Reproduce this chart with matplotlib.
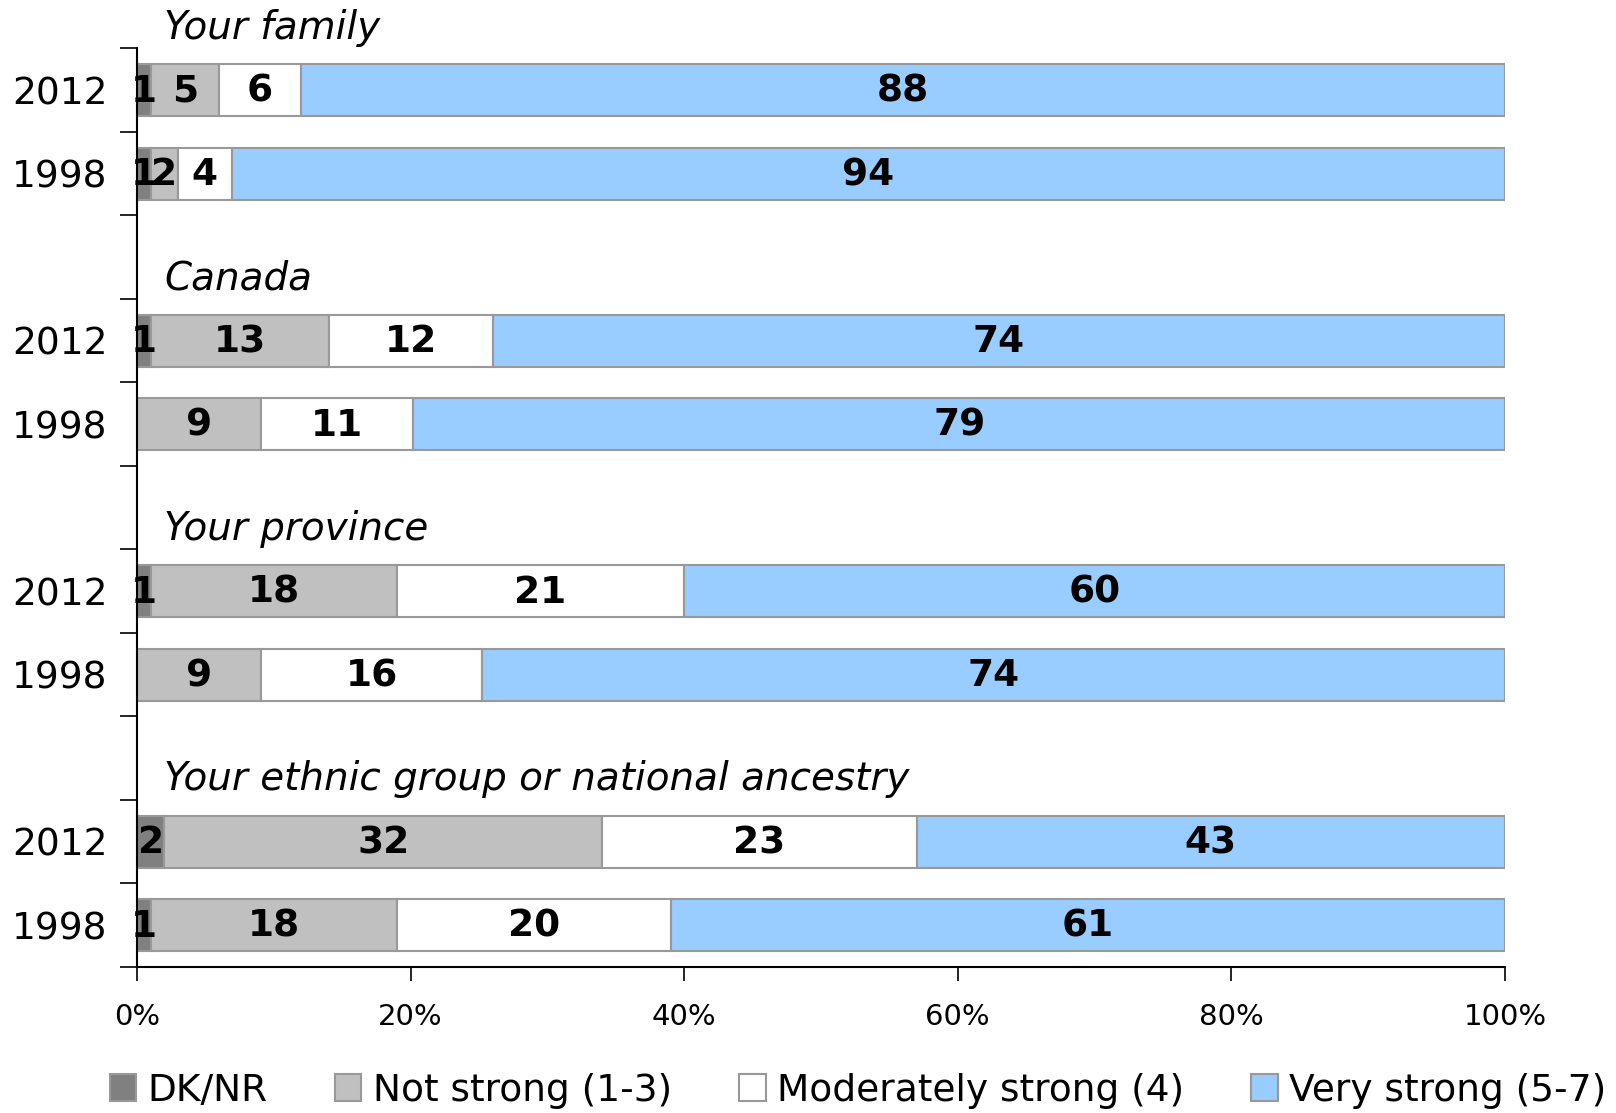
import numpy as np
import matplotlib
matplotlib.use("Agg")
import matplotlib.pyplot as plt
from matplotlib.patches import Patch

# rows from top to bottom; header rows carry no bars
groups = ["Your family", "Canada", "Your province", "Your ethnic group or national ancestry"]
years = ["2012", "1998"]
series = ["DK/NR", "Not strong (1-3)", "Moderately strong (4)", "Very strong (5-7)"]

dk = [1, 1, 1, 0, 1, 0, 2, 1]
not_strong = [5, 2, 13, 9, 18, 9, 32, 18]
moderate = [6, 4, 12, 11, 21, 16, 23, 20]
very_strong = [88, 94, 74, 79, 60, 74, 43, 61]

colors = ["#808080", "#C0C0C0", "#FFFFFF", "#99CCFF"]
edge = "#999999"

plt.rcParams["font.family"] = ["DejaVu Sans"]

fig = plt.figure(figsize=(16.16, 11.13), dpi=100)
ax = fig.add_axes([0.0848, 0.1312, 0.8465, 0.8253])

vals = np.array([dk, not_strong, moderate, very_strong], dtype=float)
shares = vals / vals.sum(axis=0) * 100

# slot positions: each group has a header slot (first one sits above the axis)
ypos = []
header_pos = []
slot = -1
for g in groups:
    header_pos.append(slot)
    ypos.extend([slot + 1, slot + 2])
    slot += 3
ypos = np.array(ypos)

left = np.zeros(len(ypos))
for i in range(4):
    ax.barh(ypos, shares[i], left=left, height=0.62, color=colors[i],
            edgecolor=edge, linewidth=1.5, label=series[i])
    for j in range(len(ypos)):
        if vals[i, j] > 0:
            ax.text(left[j] + shares[i, j] / 2, ypos[j] + 0.02, f"{int(vals[i, j])}",
                    ha="center", va="center", fontsize=27, fontweight="bold")
    left += shares[i]

for g, hp in zip(groups, header_pos):
    ax.text(2.0, hp + 0.25, g, fontsize=28, style="italic", ha="left",
            va="center", clip_on=False)

ax.set_xlim(0, 100)
ax.set_ylim(10.5, -0.5)
ax.set_xticks(np.arange(0, 101, 20))
ax.set_xticklabels([f"{x}%" for x in range(0, 101, 20)], fontsize=21)
ax.tick_params(axis="x", length=10, width=1.2, pad=16)

ax.set_yticks(ypos)
ax.set_yticklabels(years * len(groups), fontsize=27)
ax.tick_params(axis="y", length=0, pad=21)
ax.set_yticks(np.arange(-0.5, 11, 1), minor=True)
ax.tick_params(axis="y", which="minor", length=12, width=1.2)

for s in ["top", "right"]:
    ax.spines[s].set_visible(False)
ax.spines["left"].set_linewidth(1.5)
ax.spines["bottom"].set_linewidth(1.5)

handles = [Patch(facecolor=c, edgecolor=edge, linewidth=1.5) for c in colors]
fig.legend(handles, series, loc="center", bbox_to_anchor=(0.531, 0.02), ncol=4,
           frameon=False, fontsize=27, handlelength=0.7, handleheight=0.7,
           handletextpad=0.3, columnspacing=1.8, borderpad=0.0)

fig.savefig("out.png", dpi=100)
